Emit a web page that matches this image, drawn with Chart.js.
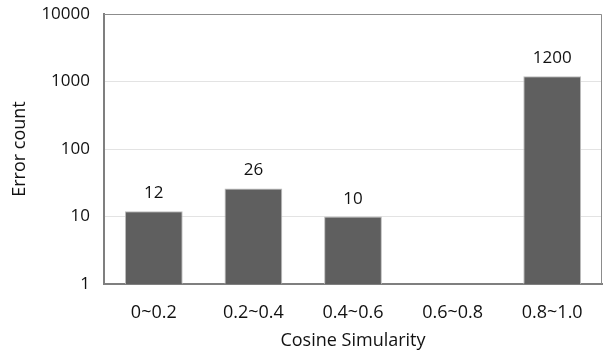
<!DOCTYPE html>
<html>
<head>
<meta charset="utf-8">
<script src="https://cdn.jsdelivr.net/npm/chart.js@4"></script>
<style>
  html, body { margin: 0; padding: 0; background: #fff; }
  #wrap { width: 604px; height: 354px; }
</style>
</head>
<body>
<div id="wrap"><canvas id="myChart"></canvas></div>
<script>
let categories = ['0~0.2', '0.2~0.4', '0.4~0.6', '0.6~0.8', '0.8~1.0'];
let error_counts = [12, 26, 10, null, 1200];
let y_ticks = [1, 10, 100, 1000, 10000];

let font_family = "'Open Sans', 'Noto Sans', sans-serif";

// labels over each bar
const barLabels = {
  id: 'barLabels',
  afterDatasetsDraw (chart) {
    let ctx = chart.ctx;
    let meta = chart.getDatasetMeta(0);
    ctx.save();
    ctx.font = '17px ' + font_family;
    ctx.fillStyle = '#111';
    ctx.textAlign = 'center';
    ctx.textBaseline = 'alphabetic';
    meta.data.forEach(function (bar, i) {
      if (error_counts[i] == null) return;
      ctx.fillText(String(error_counts[i]), bar.x, bar.y - 13);
    });
    ctx.restore();
  }
};

// top and right border of the plot box
const plotBox = {
  id: 'plotBox',
  beforeDatasetsDraw (chart) {
    let a = chart.chartArea;
    let ctx = chart.ctx;
    ctx.save();
    ctx.strokeStyle = '#8c8c8c';
    ctx.lineWidth = 1;
    ctx.beginPath();
    ctx.moveTo(a.left, a.top + 0.5);
    ctx.lineTo(a.right - 0.5, a.top + 0.5);
    ctx.lineTo(a.right - 0.5, a.bottom);
    ctx.stroke();
    ctx.restore();
  }
};

const data = {
  labels: categories,
  datasets: [
    {
      label: 'Error count',
      data: error_counts,
      backgroundColor: '#5f5f5f',
      borderColor: '#bdbdbd',
      borderWidth: 1,
      barPercentage: 0.58,
      categoryPercentage: 1.0
    }
  ]
};

const config = {
  type: 'bar',
  data: data,
  options: {
    responsive: true,
    maintainAspectRatio: false,
    animation: false,
    layout: { padding: { left: 0, right: 2, top: 14, bottom: 2 } },
    plugins: {
      legend: { display: false },
      tooltip: { enabled: false }
    },
    scales: {
      x: {
        grid: { display: false },
        border: { color: '#7f7f7f', width: 2 },
        ticks: { color: '#111', font: { family: font_family, size: 18 }, padding: 10 },
        title: {
          display: true,
          text: 'Cosine Simularity',
          color: '#111',
          font: { family: font_family, size: 18 },
          padding: { top: 8, bottom: 0 }
        },
        afterFit (scale) { scale.height = 68; }
      },
      y: {
        type: 'logarithmic',
        min: 1,
        max: 10000,
        grid: { color: '#e3e3e3', drawTicks: false },
        border: { color: '#7f7f7f', width: 2 },
        afterBuildTicks (scale) {
          scale.ticks = y_ticks.map(function (v) { return { value: v }; });
        },
        ticks: {
          color: '#111',
          font: { family: font_family, size: 17 },
          padding: 14,
          callback: function (v) { return String(v); }
        },
        title: {
          display: true,
          text: 'Error count',
          color: '#111',
          font: { family: font_family, size: 18 },
          padding: { top: 9, bottom: 4 }
        },
        afterFit (scale) {
          scale.width = 104;
          scale.paddingTop = 0;
          scale.paddingBottom = 0;
        }
      }
    }
  },
  plugins: [plotBox, barLabels]
};

let myChart = new Chart(document.getElementById('myChart'), config);
</script>
</body>
</html>
